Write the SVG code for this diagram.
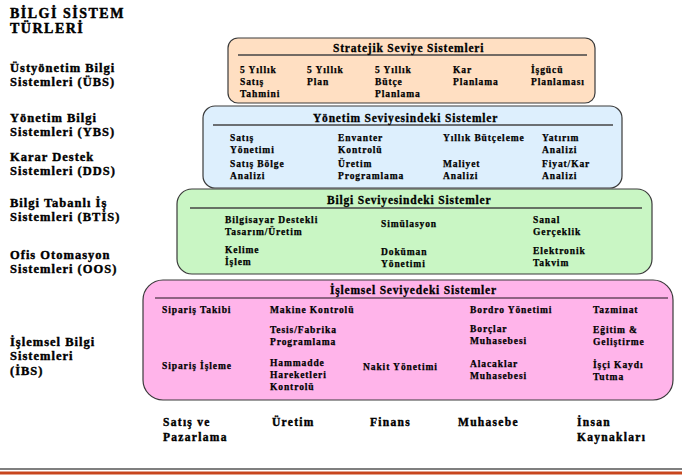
<svg xmlns="http://www.w3.org/2000/svg" width="682" height="475" viewBox="0 0 682 475">
  <style>
    text { font-family: "Liberation Serif", "Times New Roman", serif; font-weight: bold; fill: #000; stroke: #000; stroke-width: 0.3px; }
    .title { font-size: 14px; letter-spacing: 1.5px; stroke-width: 0.45px; }
    .side { font-size: 12.5px; letter-spacing: 1px; stroke-width: 0.4px; }
    .hdr { font-size: 11.5px; letter-spacing: 0.8px; }
    .item { font-size: 9.5px; letter-spacing: 0.9px; stroke-width: 0.25px; }
    .dept { font-size: 11.5px; letter-spacing: 1.3px; stroke-width: 0.4px; }
    .box { stroke: #3a3a3a; stroke-width: 1.2; }
    .rule { stroke: #444; stroke-width: 1.3; }
  </style>

  <!-- heading and level labels on the left -->
  <g id="labels">
    <text class="title" x="10" y="18">BİLGİ SİSTEM</text>
    <text class="title" x="10" y="33">TÜRLERİ</text>
    <text class="side" x="10" y="72">Üstyönetim Bilgi</text>
    <text class="side" x="10" y="86">Sistemleri (ÜBS)</text>
    <text class="side" x="10" y="122">Yönetim Bilgi</text>
    <text class="side" x="10" y="136">Sistemleri (YBS)</text>
    <text class="side" x="10" y="161">Karar Destek</text>
    <text class="side" x="10" y="175">Sistemleri (DDS)</text>
    <text class="side" x="10" y="207">Bilgi Tabanlı İş</text>
    <text class="side" x="10" y="221">Sistemleri (BTİS)</text>
    <text class="side" x="10" y="259">Ofis Otomasyon</text>
    <text class="side" x="10" y="273">Sistemleri (OOS)</text>
    <text class="side" x="10" y="346">İşlemsel Bilgi</text>
    <text class="side" x="10" y="360">Sistemleri</text>
    <text class="side" x="10" y="375">(İBS)</text>
  </g>

  <!-- operational level (drawn first, lowest layer) -->
  <g id="islemsel">
    <rect class="box" x="143" y="280" width="530" height="120" rx="20" fill="#FFB4EA"/>
    <line x1="155" y1="298" x2="668" y2="298" stroke="#6a4a60" stroke-width="1.6"/>
    <text class="hdr" x="330" y="294">İşlemsel Seviyedeki Sistemler</text>
    <text class="item" x="162" y="313">Sipariş Takibi</text>
    <text class="item" x="270" y="313">Makine Kontrolü</text>
    <text class="item" x="470" y="313">Bordro Yönetimi</text>
    <text class="item" x="593" y="313">Tazminat</text>
    <text class="item" x="270" y="333">Tesis/Fabrika</text>
    <text class="item" x="270" y="345">Programlama</text>
    <text class="item" x="470" y="332">Borçlar</text>
    <text class="item" x="470" y="344">Muhasebesi</text>
    <text class="item" x="593" y="333">Eğitim &amp;</text>
    <text class="item" x="593" y="345">Geliştirme</text>
    <text class="item" x="162" y="369">Sipariş İşleme</text>
    <text class="item" x="270" y="366">Hammadde</text>
    <text class="item" x="270" y="378">Hareketleri</text>
    <text class="item" x="270" y="390">Kontrolü</text>
    <text class="item" x="363" y="370">Nakit Yönetimi</text>
    <text class="item" x="470" y="367">Alacaklar</text>
    <text class="item" x="470" y="379">Muhasebesi</text>
    <text class="item" x="593" y="368">İşçi Kaydı</text>
    <text class="item" x="593" y="380">Tutma</text>
  </g>

  <!-- knowledge level -->
  <g id="bilgi">
    <rect class="box" x="177" y="189" width="475" height="85" rx="15" fill="#C9F6C4"/>
    <line class="rule" x1="190" y1="208" x2="642" y2="208"/>
    <text class="hdr" x="327" y="204">Bilgi Seviyesindeki Sistemler</text>
    <text class="item" x="225" y="223">Bilgisayar Destekli</text>
    <text class="item" x="225" y="235">Tasarım/Üretim</text>
    <text class="item" x="381" y="227">Simülasyon</text>
    <text class="item" x="533" y="223">Sanal</text>
    <text class="item" x="533" y="235">Gerçeklik</text>
    <text class="item" x="225" y="253">Kelime</text>
    <text class="item" x="225" y="265">İşlem</text>
    <text class="item" x="381" y="255">Doküman</text>
    <text class="item" x="381" y="267">Yönetimi</text>
    <text class="item" x="533" y="254">Elektronik</text>
    <text class="item" x="533" y="266">Takvim</text>
  </g>

  <!-- management level -->
  <g id="yonetim">
    <rect class="box" x="203" y="106" width="419" height="82" rx="12" fill="#DDEFFD"/>
    <line class="rule" x1="213" y1="125" x2="613" y2="125"/>
    <text class="hdr" x="313" y="122">Yönetim Seviyesindeki Sistemler</text>
    <text class="item" x="230" y="141">Satış</text>
    <text class="item" x="230" y="153">Yönetimi</text>
    <text class="item" x="338" y="141">Envanter</text>
    <text class="item" x="338" y="153">Kontrolü</text>
    <text class="item" x="443" y="141">Yıllık Bütçeleme</text>
    <text class="item" x="542" y="141">Yatırım</text>
    <text class="item" x="542" y="153">Analizi</text>
    <text class="item" x="230" y="167">Satış Bölge</text>
    <text class="item" x="230" y="179">Analizi</text>
    <text class="item" x="338" y="167">Üretim</text>
    <text class="item" x="338" y="179">Programlama</text>
    <text class="item" x="443" y="167">Maliyet</text>
    <text class="item" x="443" y="179">Analizi</text>
    <text class="item" x="542" y="167">Fiyat/Kar</text>
    <text class="item" x="542" y="179">Analizi</text>
  </g>

  <!-- strategic level -->
  <g id="stratejik">
    <rect class="box" x="228" y="38" width="367" height="65" rx="10" fill="#FFDFC2"/>
    <line class="rule" x1="238" y1="55" x2="587" y2="55"/>
    <text class="hdr" x="333" y="52">Stratejik Seviye Sistemleri</text>
    <text class="item" x="240" y="73">5 Yıllık</text>
    <text class="item" x="240" y="85">Satış</text>
    <text class="item" x="240" y="97">Tahmini</text>
    <text class="item" x="307" y="73">5 Yıllık</text>
    <text class="item" x="307" y="85">Plan</text>
    <text class="item" x="375" y="73">5 Yıllık</text>
    <text class="item" x="375" y="85">Bütçe</text>
    <text class="item" x="375" y="97">Planlama</text>
    <text class="item" x="453" y="73">Kar</text>
    <text class="item" x="453" y="85">Planlama</text>
    <text class="item" x="531" y="73">İşgücü</text>
    <text class="item" x="531" y="85">Planlaması</text>
  </g>

  <!-- functional areas along the bottom -->
  <g id="departmanlar">
    <text class="dept" x="163" y="426">Satış ve</text>
    <text class="dept" x="163" y="441">Pazarlama</text>
    <text class="dept" x="272" y="426">Üretim</text>
    <text class="dept" x="370" y="426">Finans</text>
    <text class="dept" x="458" y="426">Muhasebe</text>
    <text class="dept" x="577" y="426">İnsan</text>
    <text class="dept" x="577" y="441">Kaynakları</text>
  </g>

  <!-- footer rules -->
  <g id="footer">
    <line x1="0" y1="469" x2="682" y2="469" stroke="#000" stroke-width="1.2"/>
    <line x1="0" y1="473" x2="682" y2="473" stroke="#C8461E" stroke-width="3"/>
  </g>
</svg>
